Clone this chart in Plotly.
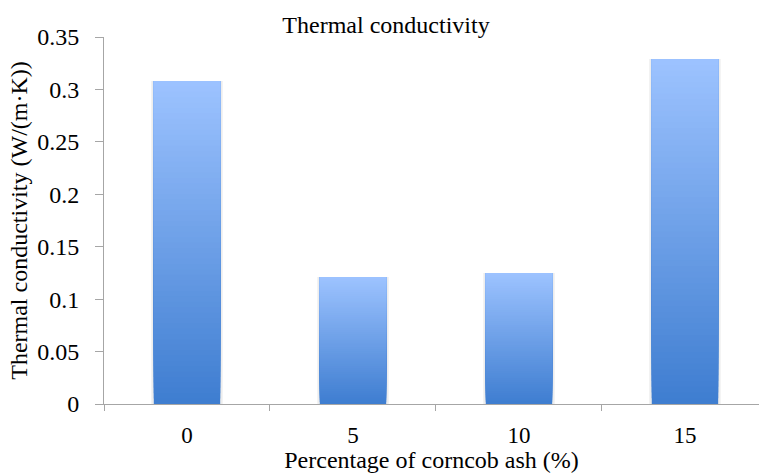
import plotly.graph_objects as go

categories = ["0", "5", "10", "15"]
values = [0.308, 0.121, 0.125, 0.329]
y_ticks = [0, 0.05, 0.1, 0.15, 0.2, 0.25, 0.3, 0.35]

title_text = "Thermal conductivity"
x_title = "Percentage of corncob ash (%)"
y_title = "Thermal conductivity (W/(m·K))"

FONT = "Liberation Serif"
TOP = (157, 195, 255)
BOT = (62, 125, 208)
N = 60

fig = go.Figure()

# soft shadow behind bars
fig.add_trace(go.Bar(x=categories, y=values, width=0.43,
                     marker=dict(color="rgba(0,0,0,0.07)", line=dict(width=0)),
                     hoverinfo="skip", showlegend=False))

# vertical gradient: each layer starts higher and covers to the top
for k in range(N):
    t = (k + 0.5) / N
    c = tuple(round(BOT[i] + (TOP[i] - BOT[i]) * t) for i in range(3))
    fig.add_trace(go.Bar(
        x=categories,
        y=[v * (N - k) / N for v in values],
        base=[v * k / N for v in values],
        width=0.4,
        marker=dict(color="rgb(%d,%d,%d)" % c, line=dict(width=0)),
        hoverinfo="skip", showlegend=False))

axis_col = "#A6A6A6"
tf = dict(family=FONT, size=24, color="black")
tk = dict(family=FONT, size=23, color="black")
fig.update_layout(
    width=759, height=473,
    barmode="overlay",
    paper_bgcolor="white", plot_bgcolor="white",
    margin=dict(l=104, r=0, t=37, b=69),
    font=tf,
    title=dict(text=title_text, x=386 / 759, xanchor="center",
               y=1 - 25 / 473, yanchor="middle", yref="container",
               font=tf),
    xaxis=dict(type="category", range=[-0.5, 3.446], tickson="boundaries",
               ticks="outside", ticklen=6, tickcolor=axis_col,
               showline=True, linecolor=axis_col, linewidth=1,
               showgrid=False, zeroline=False, ticklabelstandoff=10,
               tickfont=tk,
               title=dict(text=x_title, standoff=5, font=tf)),
    yaxis=dict(range=[0, 0.35], tickvals=y_ticks,
               ticktext=[("%g" % v) for v in y_ticks],
               ticks="outside", ticklen=8, tickcolor=axis_col,
               showline=True, linecolor=axis_col, linewidth=1,
               showgrid=False, zeroline=False, ticklabelstandoff=11,
               tickfont=tf,
               title=dict(text=y_title, standoff=2, font=tf)),
)

fig.write_html("out.html")
